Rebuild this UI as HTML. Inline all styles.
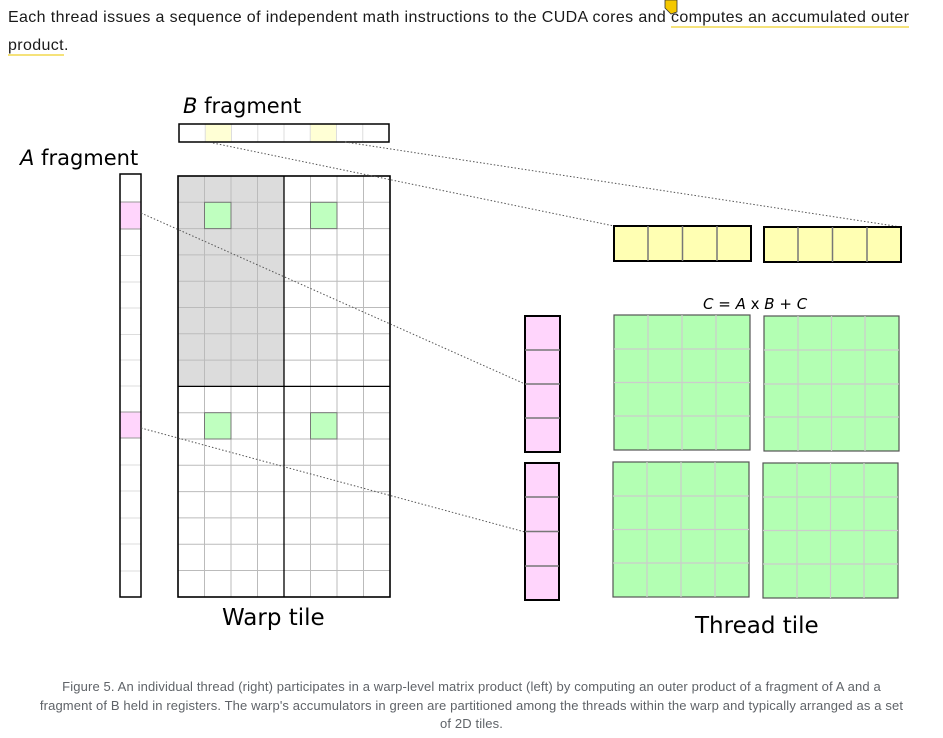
<!DOCTYPE html>
<html><head><meta charset="utf-8"><style>
body{margin:0;background:#fff;width:943px;height:738px;overflow:hidden;font-family:"Liberation Sans",sans-serif}
.p{position:absolute;left:8px;top:4px;width:935px;font-size:16px;line-height:28px;color:#1a1a1a;letter-spacing:0.37px;white-space:nowrap}
.u{border-bottom:2px solid #f5e27a}
.cap{position:absolute;left:0;top:678px;width:943px;text-align:center;font-size:13px;line-height:18.5px;color:#5f6368;letter-spacing:0.13px;white-space:nowrap}
svg{position:absolute;left:0;top:0}
</style></head><body>
<div class="p">Each thread issues a sequence of independent math instructions to the CUDA cores and <span class="u">computes an accumulated outer</span><br><span class="u">product</span>.</div>
<svg width="943" height="738" font-family="DejaVu Sans, sans-serif">
<text x="183" y="113" font-size="21"><tspan font-style="italic">B</tspan> fragment</text>
<text x="20" y="165" font-size="21"><tspan font-style="italic">A</tspan> fragment</text>
<text x="222" y="625" font-size="23">Warp tile</text>
<text x="695" y="633" font-size="23">Thread tile</text>
<text x="703" y="309" font-size="15"><tspan font-style="italic">C</tspan> = <tspan font-style="italic">A</tspan> x <tspan font-style="italic">B</tspan> + <tspan font-style="italic">C</tspan></text>
<rect x="205.25" y="124" width="26.25" height="18" fill="#ffffd5"/>
<rect x="310.25" y="124" width="26.25" height="18" fill="#ffffd5"/>
<g stroke="#ddd" stroke-width="1">
<line x1="205.25" y1="124" x2="205.25" y2="142"/><line x1="231.5" y1="124" x2="231.5" y2="142"/><line x1="257.75" y1="124" x2="257.75" y2="142"/><line x1="284" y1="124" x2="284" y2="142"/><line x1="310.25" y1="124" x2="310.25" y2="142"/><line x1="336.5" y1="124" x2="336.5" y2="142"/><line x1="362.75" y1="124" x2="362.75" y2="142"/>
</g>
<rect x="179" y="124" width="210" height="18" fill="none" stroke="#000" stroke-width="1.5"/>
<rect x="120" y="202" width="21" height="27" fill="#ffd5fc" stroke="#999"/>
<rect x="120" y="412" width="21" height="26" fill="#ffd5fc" stroke="#999"/>
<g stroke="#ddd">
<line x1="120" x2="141" y1="255.5" y2="255.5"/><line x1="120" x2="141" y1="282" y2="282"/><line x1="120" x2="141" y1="308" y2="308"/><line x1="120" x2="141" y1="334.5" y2="334.5"/><line x1="120" x2="141" y1="360" y2="360"/><line x1="120" x2="141" y1="386" y2="386"/><line x1="120" x2="141" y1="465" y2="465"/><line x1="120" x2="141" y1="491" y2="491"/><line x1="120" x2="141" y1="518" y2="518"/><line x1="120" x2="141" y1="544" y2="544"/><line x1="120" x2="141" y1="571" y2="571"/>
</g>
<rect x="120" y="174" width="21" height="423" fill="none" stroke="#000" stroke-width="1.5"/>
<rect x="178" y="176" width="106" height="210.4" fill="#dcdcdc"/>
<g stroke="#bbb">
<line x1="204.5" x2="204.5" y1="176" y2="597"/><line x1="231" x2="231" y1="176" y2="597"/><line x1="257.5" x2="257.5" y1="176" y2="597"/><line x1="310.5" x2="310.5" y1="176" y2="597"/><line x1="337" x2="337" y1="176" y2="597"/><line x1="363.5" x2="363.5" y1="176" y2="597"/>
<line x1="178" x2="390" y1="202.3" y2="202.3"/><line x1="178" x2="390" y1="228.6" y2="228.6"/><line x1="178" x2="390" y1="254.9" y2="254.9"/><line x1="178" x2="390" y1="281.2" y2="281.2"/><line x1="178" x2="390" y1="307.5" y2="307.5"/><line x1="178" x2="390" y1="333.8" y2="333.8"/><line x1="178" x2="390" y1="360.1" y2="360.1"/><line x1="178" x2="390" y1="412.7" y2="412.7"/><line x1="178" x2="390" y1="439" y2="439"/><line x1="178" x2="390" y1="465.3" y2="465.3"/><line x1="178" x2="390" y1="491.6" y2="491.6"/><line x1="178" x2="390" y1="517.9" y2="517.9"/><line x1="178" x2="390" y1="544.2" y2="544.2"/><line x1="178" x2="390" y1="570.5" y2="570.5"/>
</g>
<rect x="204.5" y="202.3" width="26.5" height="26.3" fill="#bfffbf" stroke="#777"/>
<rect x="310.5" y="202.3" width="26.5" height="26.3" fill="#bfffbf" stroke="#777"/>
<rect x="204.5" y="412.7" width="26.5" height="26.3" fill="#bfffbf" stroke="#777"/>
<rect x="310.5" y="412.7" width="26.5" height="26.3" fill="#bfffbf" stroke="#777"/>
<line x1="284" x2="284" y1="176" y2="597" stroke="#000" stroke-width="1.3"/>
<line x1="178" x2="390" y1="386.4" y2="386.4" stroke="#000" stroke-width="1.3"/>
<rect x="178" y="176" width="212" height="421" fill="none" stroke="#000" stroke-width="1.6"/>
<g stroke="#555" stroke-width="1" stroke-dasharray="1.5,2" fill="none">
<line x1="213" y1="143" x2="614" y2="226"/>
<line x1="345" y1="142" x2="901" y2="227"/>
<line x1="141" y1="213" x2="525" y2="384"/>
<line x1="141" y1="428" x2="525" y2="532"/>
</g>
<g stroke="#777" stroke-width="1.5">
<rect x="614" y="226" width="137" height="35" fill="#ffffb3" stroke="#000" stroke-width="2"/>
<line x1="648" x2="648" y1="226" y2="261"/><line x1="682.5" x2="682.5" y1="226" y2="261"/><line x1="717" x2="717" y1="226" y2="261"/>
<rect x="764" y="227" width="137" height="35" fill="#ffffb3" stroke="#000" stroke-width="2"/>
<line x1="798" x2="798" y1="227" y2="262"/><line x1="832.5" x2="832.5" y1="227" y2="262"/><line x1="867" x2="867" y1="227" y2="262"/>
<rect x="525" y="316" width="35" height="136" fill="#ffd5fc" stroke="#000" stroke-width="2"/>
<line x1="525" x2="560" y1="350" y2="350"/><line x1="525" x2="560" y1="384" y2="384"/><line x1="525" x2="560" y1="418" y2="418"/>
<rect x="525" y="463" width="34" height="137" fill="#ffd5fc" stroke="#000" stroke-width="2"/>
<line x1="525" x2="559" y1="497" y2="497"/><line x1="525" x2="559" y1="531.5" y2="531.5"/><line x1="525" x2="559" y1="566" y2="566"/>
</g>
<g stroke="#ccc" stroke-width="1.2">
<rect x="614" y="315" width="136" height="135" fill="#b3ffb3" stroke="#555"/>
<line x1="648" x2="648" y1="315" y2="450"/><line x1="682" x2="682" y1="315" y2="450"/><line x1="716" x2="716" y1="315" y2="450"/>
<line x1="614" x2="750" y1="349" y2="349"/><line x1="614" x2="750" y1="382.5" y2="382.5"/><line x1="614" x2="750" y1="416" y2="416"/>
<rect x="764" y="316" width="135" height="135" fill="#b3ffb3" stroke="#555"/>
<line x1="798" x2="798" y1="316" y2="451"/><line x1="831.5" x2="831.5" y1="316" y2="451"/><line x1="865" x2="865" y1="316" y2="451"/>
<line x1="764" x2="899" y1="350" y2="350"/><line x1="764" x2="899" y1="384" y2="384"/><line x1="764" x2="899" y1="417" y2="417"/>
<rect x="613" y="462" width="136" height="135" fill="#b3ffb3" stroke="#555"/>
<line x1="647" x2="647" y1="462" y2="597"/><line x1="681" x2="681" y1="462" y2="597"/><line x1="715" x2="715" y1="462" y2="597"/>
<line x1="613" x2="749" y1="496" y2="496"/><line x1="613" x2="749" y1="529.5" y2="529.5"/><line x1="613" x2="749" y1="563" y2="563"/>
<rect x="763" y="463" width="135" height="135" fill="#b3ffb3" stroke="#555"/>
<line x1="797" x2="797" y1="463" y2="598"/><line x1="830.5" x2="830.5" y1="463" y2="598"/><line x1="864" x2="864" y1="463" y2="598"/>
<line x1="763" x2="898" y1="497" y2="497"/><line x1="763" x2="898" y1="530.5" y2="530.5"/><line x1="763" x2="898" y1="564" y2="564"/>
</g>
<polygon points="665,0 677,0 677,12 671,14 665,8" fill="#f5c800" stroke="#333" stroke-width="0.8"/>
</svg>
<div class="cap">Figure 5. An individual thread (right) participates in a warp-level matrix product (left) by computing an outer product of a fragment of A and a<br>fragment of B held in registers. The warp's accumulators in green are partitioned among the threads within the warp and typically arranged as a set<br>of 2D tiles.</div>
</body></html>
